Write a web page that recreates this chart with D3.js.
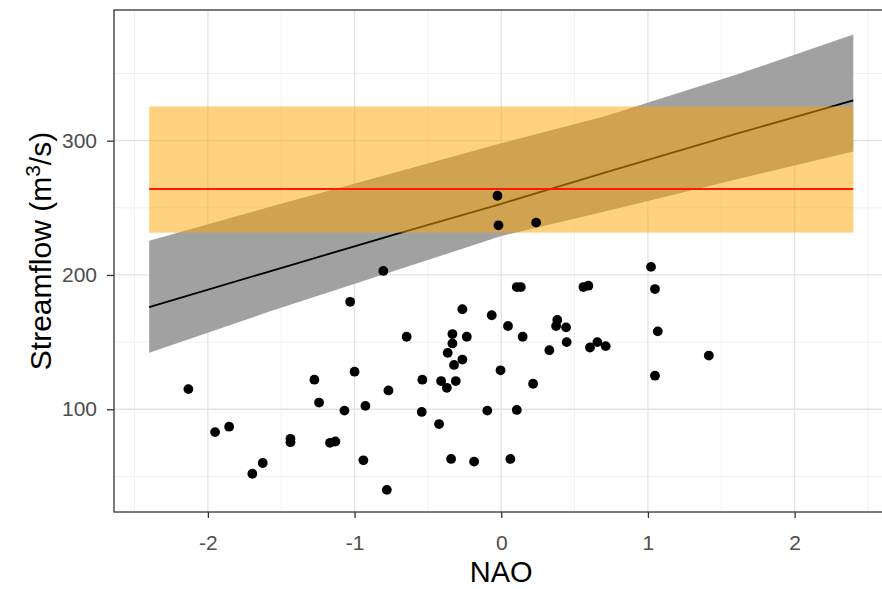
<!DOCTYPE html>
<html>
<head>
<meta charset="utf-8">
<script src="https://cdn.jsdelivr.net/npm/d3@7"></script>
<style>
	body { margin: 0; background: #fff; }
	svg { display: block; font-family: "Liberation Sans", Arial, sans-serif; }
</style>
</head>
<body>
<div class="graphic"></div>
<script>

// observed NAO index and streamflow (m3/s)
var nao = [-1.03, -0.265, -0.065, -0.645, -0.333, -0.235, -0.333, -0.365, -0.265, -0.322,
	-0.005, -1.0, -2.133, -1.274, -0.538, -0.41, -0.31, -0.371, -0.769, -1.242,
	-0.926, -1.069, -0.542, -0.095, -0.424, -1.951, -1.855, -1.437, -1.437, -1.167,
	-1.131, -0.94, -0.342, -0.185, -1.626, -1.697, -0.78, 0.046, 0.146, 0.382,
	0.374, 0.442, 0.328, 0.446, 0.605, 0.655, 0.712, 1.067, 1.415, 0.217,
	0.106, 1.048, 0.062, 0.106, 0.133, 0.56, 0.594, 1.048, -0.804, -0.026,
	-0.019, 0.238, 1.021];
var flow = [180, 174.5, 170, 154, 156, 154, 149, 142, 137, 133,
	129, 128, 115, 122, 122, 121, 121, 116, 114, 105,
	102.5, 99, 98, 99, 89, 83, 87, 78, 75.5, 75,
	76, 62, 63, 61, 60, 52, 40, 162, 154, 166.5,
	162, 161, 144, 150, 146, 150, 147, 158, 140, 119,
	99.5, 125, 63, 191, 191, 191, 192, 189.5, 203, 259,
	237, 239, 206];

// fitted model and its interval
var fitNao = [-2.4, -1.6, -0.7, 0, 0.7, 1.6, 2.4];
var fitFlow = [176, 202, 231, 253, 276, 305, 330];
var fitLow = [142, 172, 204, 229, 247, 271, 292];
var fitHigh = [225.5, 250, 277, 298, 318, 349, 379];

// reference band (mean and range)
var bandNao = [-2.4, 2.4];
var bandMean = 264;
var bandLow = 231.5;
var bandHigh = 325.5;

var xTicks = [-2, -1, 0, 1, 2];
var xMinor = [-2.5, -1.5, -0.5, 0.5, 1.5, 2.5];
var yTicks = [100, 200, 300];
var yMinor = [50, 150, 250, 350];

function makeChart() {

	var width = 882;
	var height = 589;
	var left = 114, top = 10, right = 888.5, bottom = 512;

	var svg = d3.select('.graphic').append('svg')
		.attr('width', width)
		.attr('height', height)
		.attr('viewBox', `0 0 ${width} ${height}`);

	var x = d3.scaleLinear().domain([-2.64, 2.64]).range([left, right]);
	var y = d3.scaleLinear().domain([23.5, 397.3]).range([bottom, top]);

	svg.append('clipPath').attr('id', 'panel')
		.append('rect')
		.attr('x', left).attr('y', top)
		.attr('width', right - left).attr('height', bottom - top);

	var panel = svg.append('g').attr('clip-path', 'url(#panel)');

	// grid
	panel.selectAll('.xminor').data(xMinor).enter().append('line')
		.attr('x1', d => x(d)).attr('x2', d => x(d))
		.attr('y1', top).attr('y2', bottom)
		.attr('stroke', '#ebebeb').attr('stroke-width', 0.7);
	panel.selectAll('.yminor').data(yMinor).enter().append('line')
		.attr('x1', left).attr('x2', right)
		.attr('y1', d => y(d)).attr('y2', d => y(d))
		.attr('stroke', '#ebebeb').attr('stroke-width', 0.7);
	panel.selectAll('.xmajor').data(xTicks).enter().append('line')
		.attr('x1', d => x(d)).attr('x2', d => x(d))
		.attr('y1', top).attr('y2', bottom)
		.attr('stroke', '#e3e3e3').attr('stroke-width', 1.3);
	panel.selectAll('.ymajor').data(yTicks).enter().append('line')
		.attr('x1', left).attr('x2', right)
		.attr('y1', d => y(d)).attr('y2', d => y(d))
		.attr('stroke', '#e3e3e3').attr('stroke-width', 1.3);

	// model interval
	var fitData = fitNao.map((d, i) => ({ x: d, fit: fitFlow[i], lo: fitLow[i], hi: fitHigh[i] }));

	panel.append('path')
		.datum(fitData)
		.attr('d', d3.area().x(d => x(d.x)).y0(d => y(d.lo)).y1(d => y(d.hi)))
		.attr('fill', '#a1a1a1');

	panel.append('path')
		.datum(fitData)
		.attr('d', d3.line().x(d => x(d.x)).y(d => y(d.fit)))
		.attr('fill', 'none')
		.attr('stroke', '#000')
		.attr('stroke-width', 1.8);

	// reference band
	panel.append('rect')
		.attr('x', x(bandNao[0]))
		.attr('y', y(bandHigh))
		.attr('width', x(bandNao[1]) - x(bandNao[0]))
		.attr('height', y(bandLow) - y(bandHigh))
		.attr('fill', 'orange')
		.attr('fill-opacity', 0.5);

	panel.append('line')
		.attr('x1', x(bandNao[0])).attr('x2', x(bandNao[1]))
		.attr('y1', y(bandMean)).attr('y2', y(bandMean))
		.attr('stroke', '#ff1a00')
		.attr('stroke-width', 2.2);

	// observations
	panel.selectAll('circle')
		.data(nao.map((d, i) => [d, flow[i]]))
		.enter()
		.append('circle')
		.attr('cx', d => x(d[0]))
		.attr('cy', d => y(d[1]))
		.attr('r', 4.9)
		.attr('fill', '#000');

	// border
	svg.append('rect')
		.attr('x', left).attr('y', top)
		.attr('width', right - left).attr('height', bottom - top)
		.attr('fill', 'none')
		.attr('stroke', '#333')
		.attr('stroke-width', 1.3);

	// axes
	var xAxis = svg.append('g')
		.attr('transform', `translate(0,${bottom})`)
		.call(d3.axisBottom(x).tickValues(xTicks).tickSize(6).tickPadding(17).tickFormat(d3.format('d')));
	var yAxis = svg.append('g')
		.attr('transform', `translate(${left},0)`)
		.call(d3.axisLeft(y).tickValues(yTicks).tickSize(7).tickPadding(10));

	[xAxis, yAxis].forEach(function(g) {
		g.select('.domain').remove();
		g.selectAll('line').attr('stroke', '#333').attr('stroke-width', 1.3);
		g.selectAll('text')
			.attr('fill', '#4d4d4d')
			.style('font-size', '21px')
			.style('font-family', '"Liberation Sans", Arial, sans-serif');
	});
	xAxis.selectAll('text').text(d => d < 0 ? '-' + Math.abs(d) : d);

	// titles
	svg.append('text')
		.attr('x', x(0))
		.attr('y', 582)
		.attr('text-anchor', 'middle')
		.style('font-size', '29px')
		.text('NAO');

	var yTitle = svg.append('text')
		.attr('transform', 'translate(51,251) rotate(-90)')
		.attr('text-anchor', 'middle')
		.style('font-size', '30px');
	yTitle.append('tspan').text('Streamflow (m');
	yTitle.append('tspan').attr('dy', -11).style('font-size', '21px').text('3');
	yTitle.append('tspan').attr('dy', 11).text('/s)');
}

makeChart();
</script>
</body>
</html>
